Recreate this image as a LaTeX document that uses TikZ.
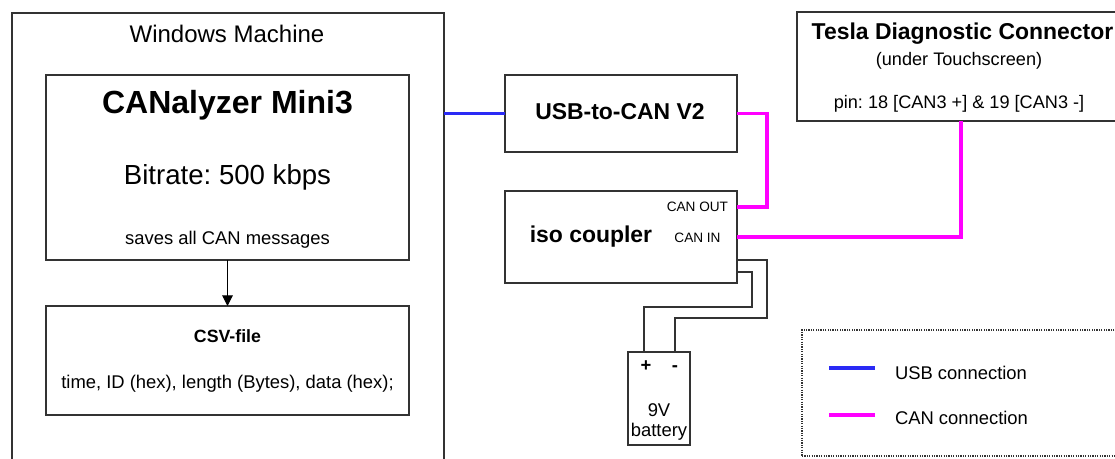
\documentclass[tikz,border=0pt]{standalone}
\usepackage{fontspec}
\setmainfont{Liberation Sans}
\usetikzlibrary{arrows.meta}
\newdimen\pxu \pxu=0.75pt
\newcommand\setfs[1]{\fontsize{#1}{#1}\selectfont}
\definecolor{edgecol}{HTML}{333333}
\definecolor{usbblue}{HTML}{2A2AF5}
\definecolor{canmag}{HTML}{FF00FF}
\frenchspacing
\begin{document}
\begin{tikzpicture}[x=0.75pt,y=-0.75pt,
  box/.style={draw=edgecol, line width=1.1pt, fill=white, inner sep=0pt, outer sep=0pt},
  txt/.style={inner sep=0pt, outer sep=0pt, anchor=base, text=black},
  usbline/.style={draw=usbblue, line width=2.6pt},
  canline/.style={draw=canmag, line width=2.6pt},
  wire/.style={draw=edgecol, line width=1.1pt},
  legendbox/.style={draw=edgecol, line width=0.9pt, dash pattern=on 0.9pt off 0.9pt, inner sep=0pt}]
\useasboundingbox (0,0) rectangle (1115,459);
\clip (0,0) rectangle (1115,459);
\fill[white] (0,0) rectangle (1115,459);

% boxes
\node[box, minimum width=432\pxu, minimum height=487\pxu] (win) at (228,256.5) {};
\node[box, minimum width=363\pxu, minimum height=185\pxu] (can) at (227.5,167.5) {};
\node[box, minimum width=363\pxu, minimum height=109\pxu] (csv) at (227.5,360.5) {};
\node[box, minimum width=232\pxu, minimum height=77\pxu] (usb) at (621,113.5) {};
\node[box, minimum width=232\pxu, minimum height=92\pxu] (iso) at (621,237) {};
\node[box, minimum width=328\pxu, minimum height=109\pxu] (tesla) at (961,66.5) {};
\node[box, minimum width=62\pxu, minimum height=93\pxu] (bat) at (659,398.5) {};
\node[legendbox, minimum width=338\pxu, minimum height=126\pxu] (legend) at (971,393) {};

% texts
\node[txt] (wint) at (227,43) {\setfs{18}Windows Machine};
\node[txt] (cant) at (227.5,114) {\setfs{24}\bfseries CANalyzer Mini3};
\node[txt] (bitt) at (227.5,185) {\setfs{20.7}Bitrate: 500 kbps};
\node[txt] (savt) at (227.5,245) {\setfs{13.8}saves all CAN messages};
\node[txt] (csvt) at (227.5,343) {\setfs{13.3}\bfseries CSV-file};
\node[txt] (colt) at (227.5,389) {\setfs{13.8}time, ID (hex), length (Bytes), data (hex);};
\node[txt] (usbt) at (620,120) {\setfs{17.2}\bfseries USB-to-CAN V2};
\node[txt] (isot) at (591,243) {\setfs{17.2}\bfseries iso coupler};
\node[txt, anchor=base east] (outt) at (728,212) {\setfs{10.2}CAN OUT};
\node[txt] (int) at (697.5,243) {\setfs{10.2}CAN IN};
\node[txt] (teslat) at (962.5,40) {\setfs{17.2}\bfseries Tesla Diagnostic Connector};
\node[txt] (undert) at (959,66) {\setfs{13.6}(under Touchscreen)};
\node[txt] (pint) at (959,109) {\setfs{13.6}pin: 18 [CAN3 +] \& 19 [CAN3 -]};
\node[txt] (plust) at (646,372) {\setfs{13.8}\bfseries +};
\node[txt] (minust) at (675,372) {\setfs{13.8}\bfseries -};
\node[txt] (ninev) at (659,417) {\setfs{13.8}9V};
\node[txt] (batt) at (659,437) {\setfs{13.8}battery};
\node[txt, anchor=base west] (usbleg) at (895,380) {\setfs{13.8}USB connection};
\node[txt, anchor=base west] (canleg) at (895,425) {\setfs{13.8}CAN connection};

% coordinates
\coordinate (canout) at (737,207);
\coordinate (canin) at (737,237);
\coordinate (pwrA) at (737,260);
\coordinate (pwrB) at (737,272);
\coordinate (bminus) at (675,352);
\coordinate (bplus) at (644,352);

% connectors
\draw[-{Triangle[length=8pt,width=8pt]}, draw=black, line width=0.8pt] (can.south) -- (csv.north);
\draw[usbline] (usb.west) -- (usb.west -| win.east);
\draw[canline] (usb.east) -- ++(30,0) |- (canout);
\draw[canline] (canin) -| (tesla.south);
\draw[wire] (pwrA) -- ++(30,0) -- ++(0,58) -| (bminus);
\draw[wire] (pwrB) -- ++(15,0) -- ++(0,35) -| (bplus);

% legend swatches
\draw[usbline] (829,368) -- (875,368);
\draw[canline] (829,415) -- (875,415);
\end{tikzpicture}
\end{document}
